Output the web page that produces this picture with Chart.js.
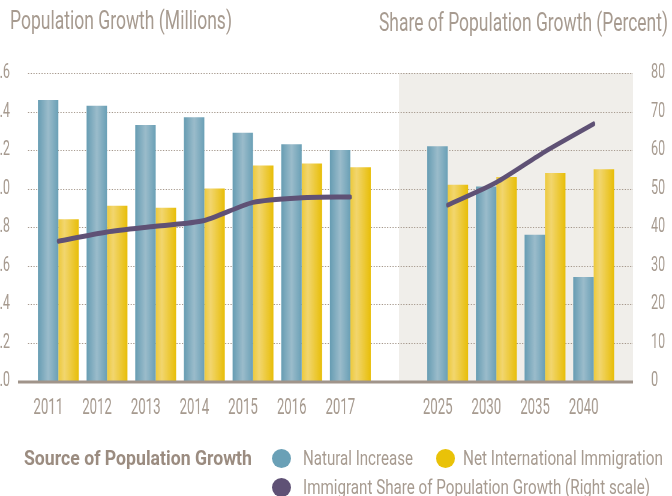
<!DOCTYPE html>
<html>
<head>
<meta charset="utf-8">
<script src="https://cdn.jsdelivr.net/npm/chart.js@4.4.1/dist/chart.umd.min.js"></script>
<style>
  html, body { margin: 0; padding: 0; background: #fff; }
  #wrap { position: relative; width: 672px; height: 496px; overflow: hidden; }
  #chart { position: absolute; left: 0; top: 0; transform-origin: 0 0; }
  .txt { position: absolute; white-space: nowrap; color: #a79b90;
         font-family: Roboto, "Liberation Sans", sans-serif;
         transform-origin: 0 0; line-height: 1; }
  .dot { position: absolute; width: 19px; height: 19px; border-radius: 50%; }
</style>
</head>
<body>
<div id="wrap">
  <canvas id="chart"></canvas>
  <div class="txt fit" data-w="222" style="left:10px; top:8px; font-size:25px;">Population Growth (Millions)</div>
  <div class="txt fit" data-w="289" style="left:379px; top:10px; font-size:25px;">Share of Population Growth (Percent)</div>
  <div class="txt fit" data-w="228" style="left:24px; top:448px; font-size:21px; font-weight:bold; color:#9b8c80;">Source of Population Growth</div>
  <div class="dot" style="left:272px; top:449px; background:#6aa0b6;"></div>
  <div class="txt fit" data-w="110" style="left:303px; top:448px; font-size:21px;">Natural Increase</div>
  <div class="dot" style="left:436px; top:449px; background:#e9c208;"></div>
  <div class="txt fit" data-w="200" style="left:463px; top:448px; font-size:21px;">Net International Immigration</div>
  <div class="dot" style="left:272px; top:478px; background:#5f5175;"></div>
  <div class="txt fit" data-w="347" style="left:303px; top:477px; font-size:21px;">Immigrant Share of Population Growth (Right scale)</div>
</div>
<script>
// datos
var years = ['2011', '2012', '2013', '2014', '2015', '2016', '2017', '', '2025', '2030', '2035', '2040'];
var naturalIncrease = [1.46, 1.43, 1.33, 1.37, 1.29, 1.23, 1.20, null, 1.22, 1.01, 0.76, 0.54];
var netImmigration = [0.84, 0.91, 0.90, 1.00, 1.12, 1.13, 1.11, null, 1.02, 1.06, 1.08, 1.10];
var immigrantShare = [36.3, 38.7, 40.2, 41.7, 46.4, 47.6, 47.8, null, 45.7, 51.6, 59.6, 66.8];
var leftTicks = [0, 0.2, 0.4, 0.6, 0.8, 1.0, 1.2, 1.4, 1.6];
var rightTicks = [0, 10, 20, 30, 40, 50, 60, 70, 80];
var projectionStart = 7; // la zona sombreada empieza en el hueco

// ajustar el ancho de los textos condensados
document.querySelectorAll('.fit').forEach(function(el) {
    var w = el.getBoundingClientRect().width;
    el.style.transform = 'scaleX(' + (parseFloat(el.dataset.w) / w) + ')';
});

// el canvas se dibuja más ancho y se comprime en horizontal (letra condensada)
var K = 0.6;
var canvas = document.getElementById('chart');
canvas.width = Math.round(672 / K);
canvas.height = 496;
canvas.style.width = canvas.width + 'px';
canvas.style.height = '496px';
canvas.style.transform = 'scaleX(' + (672 / canvas.width) + ')';

var FONT = "Roboto, 'Liberation Sans', sans-serif";
var TEXT = '#a69a8f';
var catPct = 0.84;

// degradado horizontal para cada barra
function barFill(stops, side) {
    return function(ctx) {
        var chart = ctx.chart;
        var area = chart.chartArea;
        if (!area) return stops[0][1];
        var x = chart.scales.x;
        var slot = (area.right - area.left) / years.length;
        var w = slot * catPct / 2;
        var c = x.getPixelForValue(ctx.dataIndex);
        var l = side === 0 ? c - w : c;
        var g = chart.ctx.createLinearGradient(l, 0, l + w, 0);
        stops.forEach(function(s) { g.addColorStop(s[0], s[1]); });
        return g;
    };
}

var backdrop = {
    id: 'backdrop',
    beforeDatasetsDraw: function(chart) {
        var ctx = chart.ctx, a = chart.chartArea;
        var y = chart.scales.y, x = chart.scales.x;
        var x0 = a.left - 6 / K, x1 = a.right + 15 / K;
        ctx.save();
        ctx.fillStyle = '#f0eeea';
        var sx = x.getPixelForValue(projectionStart);
        ctx.fillRect(sx, a.top, x1 - sx, a.bottom - a.top);
        ctx.strokeStyle = '#a4978b';
        ctx.lineWidth = 1;
        ctx.setLineDash([2, 2.5]);
        leftTicks.forEach(function(v) {
            if (v === 0) return;
            var py = Math.round(y.getPixelForValue(v)) + 0.5;
            ctx.beginPath();
            ctx.moveTo(x0, py);
            ctx.lineTo(x1, py);
            ctx.stroke();
        });
        ctx.restore();
    },
    afterDatasetsDraw: function(chart) {
        var ctx = chart.ctx, a = chart.chartArea;
        ctx.save();
        ctx.strokeStyle = '#a0948a';
        ctx.lineWidth = 3;
        ctx.beginPath();
        ctx.moveTo(a.left - 16 / K, a.bottom + 1);
        ctx.lineTo(a.right + 15 / K, a.bottom + 1);
        ctx.stroke();
        ctx.restore();
    }
};

var chart = new Chart(canvas, {
    type: 'bar',
    data: {
        labels: years,
        datasets: [{
            type: 'line',
            label: 'Immigrant Share of Population Growth (Right scale)',
            data: immigrantShare,
            yAxisID: 'y2',
            borderColor: '#5f5175',
            borderWidth: 5,
            borderCapStyle: 'round',
            borderJoinStyle: 'round',
            pointRadius: 0,
            tension: 0.25,
            spanGaps: false,
            order: 0
        }, {
            label: 'Natural Increase',
            data: naturalIncrease,
            yAxisID: 'y',
            backgroundColor: barFill([[0, '#679db3'], [0.5, '#9bbccb'], [1, '#6aa0b6']], 0),
            categoryPercentage: catPct,
            barPercentage: 1,
            order: 1
        }, {
            label: 'Net International Immigration',
            data: netImmigration,
            yAxisID: 'y',
            backgroundColor: barFill([[0, '#edca3c'], [0.3, '#f2d66f'], [1, '#e8be08']], 1),
            categoryPercentage: catPct,
            barPercentage: 1,
            order: 1
        }]
    },
    options: {
        responsive: false,
        animation: false,
        devicePixelRatio: 1,
        layout: { padding: { top: 73, bottom: 75, left: 0, right: 0 } },
        plugins: { legend: { display: false }, tooltip: { enabled: false } },
        scales: {
            x: {
                grid: { display: false, drawTicks: false },
                border: { display: false },
                afterFit: function(s) { s.height = 40; },
                ticks: {
                    color: TEXT, font: { family: FONT, size: 22 },
                    padding: 14, labelOffset: -10 / K, maxRotation: 0, autoSkip: false
                }
            },
            y: {
                position: 'left',
                min: 0, max: 1.6,
                afterFit: function(s) { s.width = 34 / K; },
                afterBuildTicks: function(s) { s.ticks = leftTicks.map(function(v) { return { value: v }; }); },
                grid: { display: false, drawTicks: false },
                border: { display: false },
                ticks: {
                    color: TEXT, font: { family: FONT, size: 21 }, padding: 24 / K,
                    callback: function(v) { return v.toFixed(1); }
                }
            },
            y2: {
                position: 'right',
                min: 0, max: 80,
                afterFit: function(s) { s.width = 54 / K; },
                afterBuildTicks: function(s) { s.ticks = rightTicks.map(function(v) { return { value: v }; }); },
                grid: { display: false, drawTicks: false },
                border: { display: false },
                ticks: { color: TEXT, font: { family: FONT, size: 21 }, padding: 33 / K }
            }
        }
    },
    plugins: [backdrop]
});
</script>
</body>
</html>
